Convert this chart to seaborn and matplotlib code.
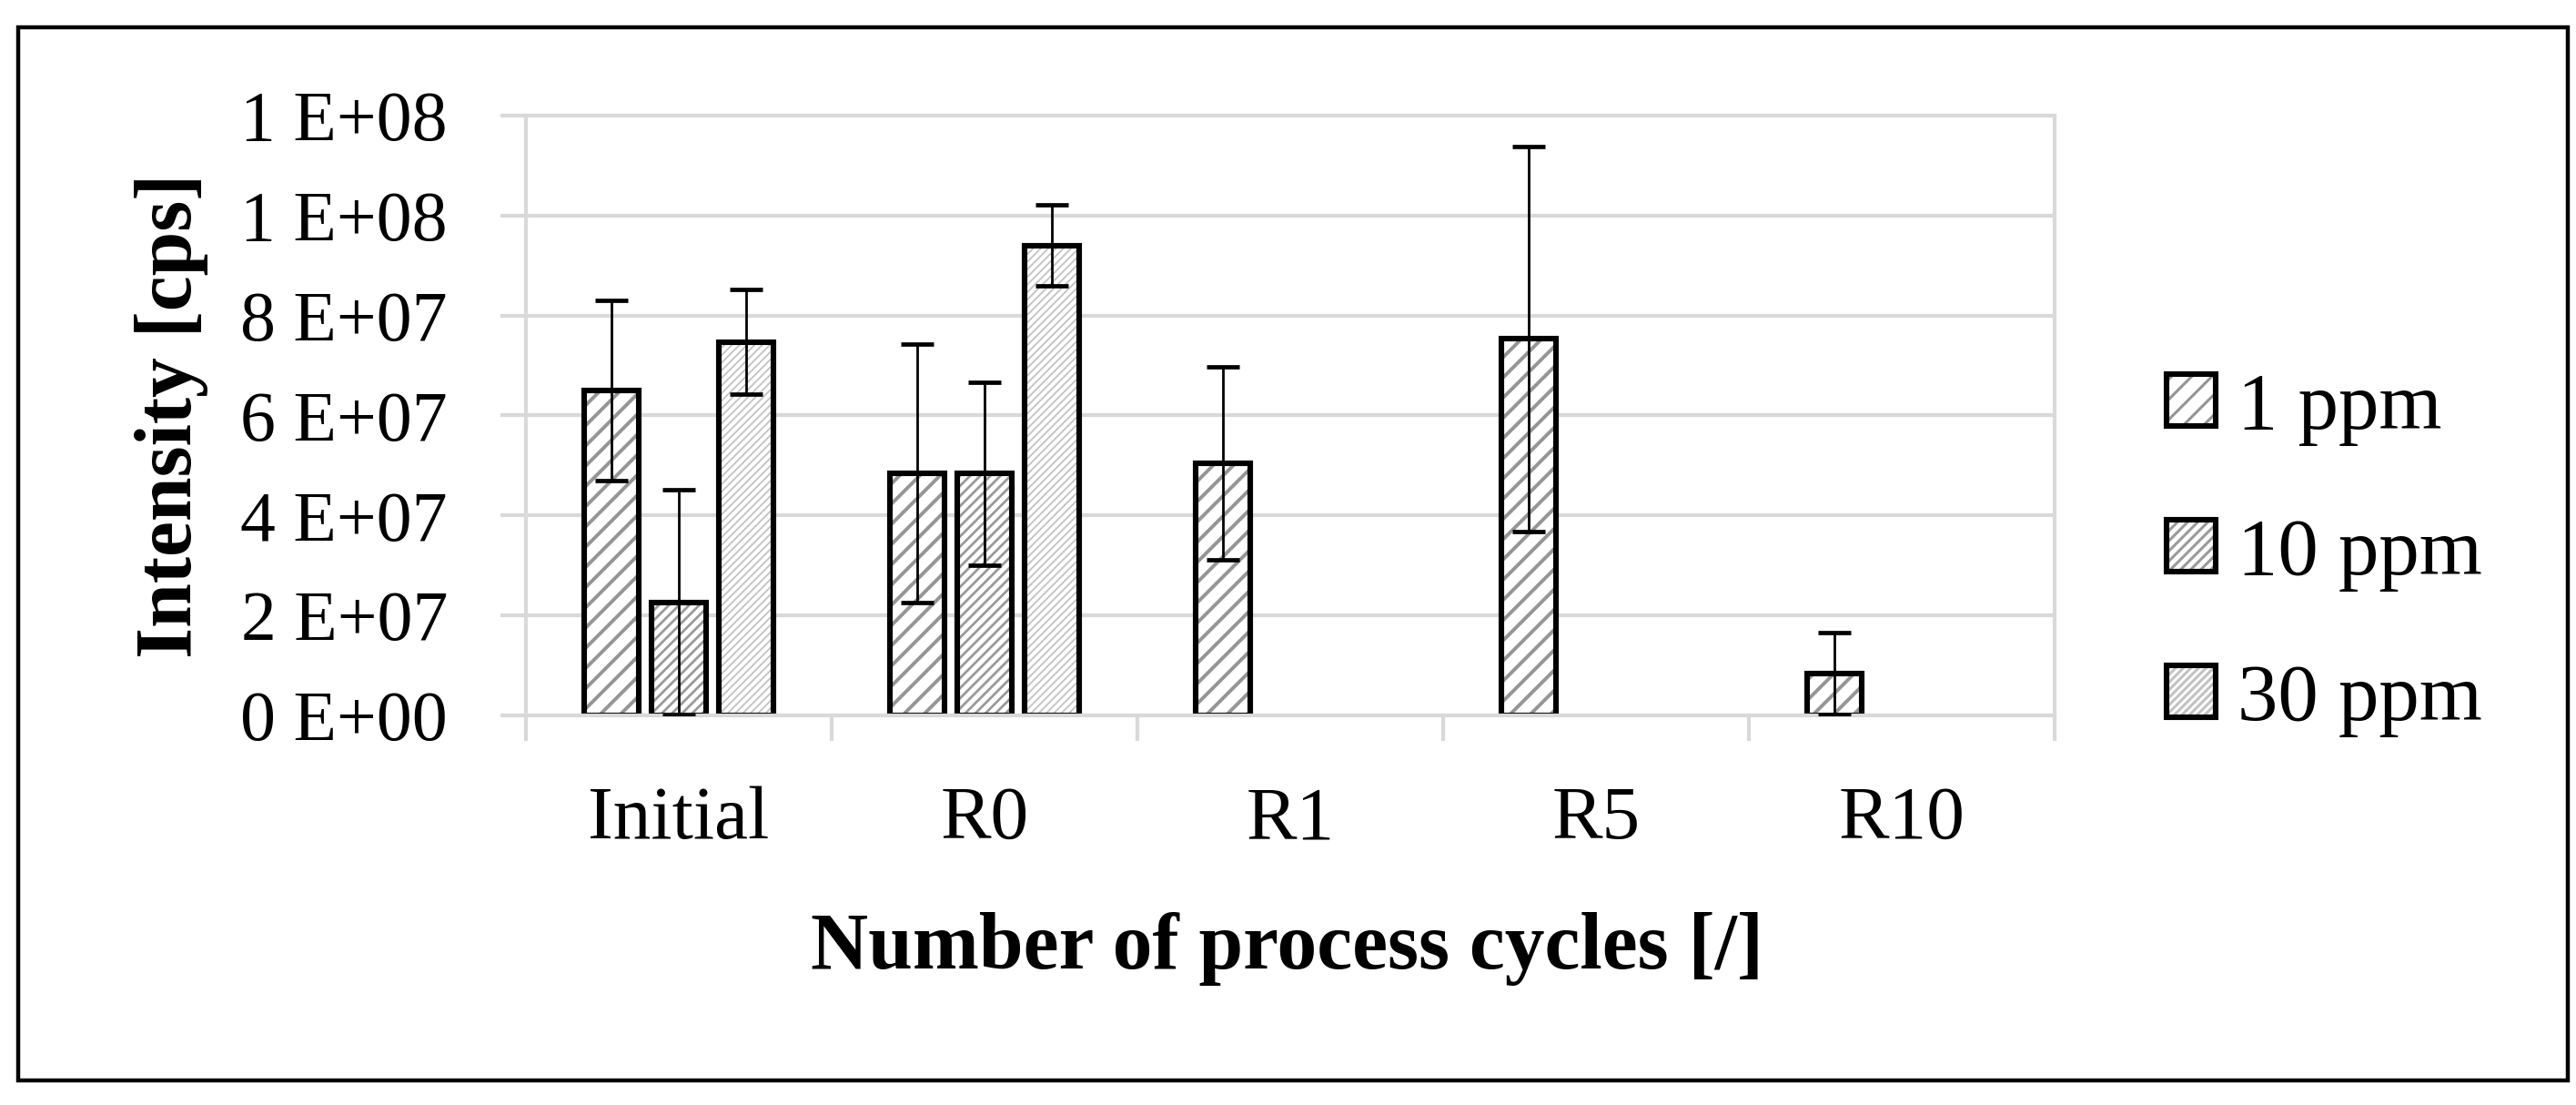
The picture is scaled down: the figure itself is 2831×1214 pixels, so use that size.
import numpy as np
import pandas as pd
import matplotlib
matplotlib.use('Agg')
import matplotlib.pyplot as plt
import seaborn as sns
from matplotlib.patches import Rectangle, Patch
from matplotlib.ticker import FuncFormatter, MultipleLocator
from matplotlib.legend_handler import HandlerTuple

# Values (intensity in cps, symmetric error bars)
categories = ['Initial', 'R0', 'R1', 'R5', 'R10']
series = ['1 ppm', '10 ppm', '30 ppm']
ppm1 = [6.50e7, 4.84e7, 5.05e7, 7.53e7, 0.83e7]
ppm1_err = [1.80e7, 2.58e7, 1.93e7, 3.85e7, 0.82e7]
ppm10 = [2.26e7, 4.84e7, None, None, None]
ppm10_err = [2.26e7, 1.83e7, None, None, None]
ppm30 = [7.47e7, 9.40e7, None, None, None]
ppm30_err = [1.05e7, 0.81e7, None, None, None]

hatches = ['///', '//////', '////////']
hatch_colors = ['#959595', '#9a9a9a', '#c2c2c2']
hatch_widths = [1.4, 1.0, 0.65]
grid_color = '#d9d9d9'

# long table for seaborn
rows = []
for name, vals, errs in zip(series, [ppm1, ppm10, ppm30], [ppm1_err, ppm10_err, ppm30_err]):
    for cat, v, e in zip(categories, vals, errs):
        if v is not None:
            rows.append({'cycle': cat, 'series': name, 'value': v, 'err': e})
df = pd.DataFrame(rows)

sns.set_style('white')
plt.rcParams['font.family'] = ['Liberation Serif', 'DejaVu Serif']
plt.rcParams['text.color'] = 'black'
plt.rcParams['axes.labelcolor'] = 'black'
plt.rcParams['hatch.linewidth'] = 1.1


def style_hatch(p, i):
    p.set_hatch(hatches[i])
    p.set_edgecolor(hatch_colors[i])
    p.set_linewidth(0)
    if hasattr(p, 'set_hatch_linewidth'):
        p.set_hatch_linewidth(hatch_widths[i])


fig = plt.figure(figsize=(14.155, 6.07), dpi=200)
ax = fig.add_axes([0.2042, 0.3526, 0.5934, 0.5428])

sns.barplot(data=df, x='cycle', y='value', hue='series', order=categories,
            hue_order=series, palette=['white'] * 3, width=0.66, gap=0.19,
            errorbar=None, linewidth=0, legend=False, ax=ax)

# hatch in gray, outline in black (overlay), error bars from the table
bar_containers = list(ax.containers)
for i, cont in enumerate(bar_containers):
    sub = df[df['series'] == series[i]].set_index('cycle')
    xs, ys, es = [], [], []
    for bar in cont:
        style_hatch(bar, i)
        x0, w, h = bar.get_x(), bar.get_width(), bar.get_height()
        ax.add_patch(Rectangle((x0, 0), w, h, fill=False, edgecolor='black',
                               linewidth=2.2, zorder=1.5))
        cat = categories[int(round(x0 + w / 2))]
        xs.append(x0 + w / 2)
        ys.append(sub.loc[cat, 'value'])
        es.append(sub.loc[cat, 'err'])
    ax.errorbar(xs, ys, yerr=es, fmt='none', ecolor='black', elinewidth=1.0,
                capsize=6.5, capthick=1.7, zorder=3)

ax.set_xlim(-0.5, len(categories) - 0.5)
ax.set_ylim(0, 1.2e8)
ax.yaxis.set_major_locator(MultipleLocator(2e7))
ax.yaxis.set_major_formatter(FuncFormatter(lambda v, pos: f'{v:.0E}'.replace('E', ' E')))
ax.grid(axis='y', color=grid_color, linewidth=1.5)
ax.set_axisbelow(True)
for side in ['left', 'right', 'top', 'bottom']:
    ax.spines[side].set_visible(True)
    ax.spines[side].set_color(grid_color)
    ax.spines[side].set_linewidth(1.5)

ax.set_xticks(np.arange(-0.5, len(categories), 1), minor=True)
ax.tick_params(axis='y', which='major', left=True, length=10, width=1.5,
               color=grid_color, pad=21, labelsize=28, labelcolor='black')
ax.tick_params(axis='x', which='major', length=0, pad=28, labelsize=30,
               labelcolor='black')
ax.tick_params(axis='x', which='minor', bottom=True, length=10, width=1.5,
               color=grid_color)

ax.set_xlabel('Number of process cycles [/]', fontsize=31.5, fontweight='bold')
ax.set_ylabel('Intensity [cps]', fontsize=31.5, fontweight='bold')
ax.xaxis.set_label_coords(0.4976, -0.328)
ax.yaxis.set_label_coords(-0.208, 0.5)

handles = []
for i in range(len(series)):
    hp = Patch(facecolor='white')
    style_hatch(hp, i)
    handles.append((hp, Patch(fill=False, edgecolor='black', linewidth=2.2)))
ax.legend(handles, series, loc='center left', bbox_to_anchor=(0.841, 0.498),
          bbox_transform=fig.transFigure, frameon=False, fontsize=32,
          handlelength=0.61, handleheight=0.61, handletextpad=0.27,
          labelspacing=0.89, borderpad=0, borderaxespad=0,
          handler_map={tuple: HandlerTuple(ndivide=1)})

# outer frame
fig.add_artist(Rectangle((20 / 2831, 0.0222), (2822 - 20) / 2831, 0.953,
                         transform=fig.transFigure, fill=False,
                         edgecolor='black', linewidth=1.6))

fig.savefig('out.png', dpi=200)
